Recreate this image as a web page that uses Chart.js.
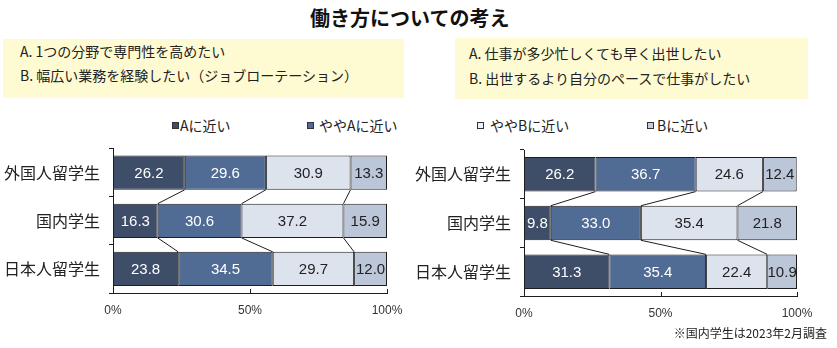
<!DOCTYPE html>
<html lang="ja">
<head>
<meta charset="utf-8">
<script src="https://cdn.jsdelivr.net/npm/chart.js@4.4.1/dist/chart.umd.min.js"></script>
<style>
  body { margin: 0; width: 837px; height: 348px; overflow: hidden; background: #fff; position: relative;
         font-family: "Noto Sans CJK JP", "Noto Sans", sans-serif; color: #222; }
  #title { position: absolute; left: 310px; top: 5px; font-size: 20px; font-weight: bold; line-height: 26px; color: #111; }
  .note { position: absolute; background: #fefbd3; font-size: 14px; box-sizing: border-box; }
  #noteL { left: 3px; top: 39px; width: 401px; height: 59px; padding: 0 0 0 17px; line-height: 24px; }
  #noteR { left: 455px; top: 38px; width: 353px; height: 61px; padding: 3px 0 0 14px; line-height: 25px; }
  .sq { position: absolute; top: 122px; width: 5px; height: 5px; border: 1px solid #333; }
  .lg { position: absolute; top: 115px; font-size: 14px; line-height: 20px; }
  .wrap { position: absolute; top: 130px; height: 200px; }
  #foot { position: absolute; right: 10px; top: 324px; font-size: 12px; line-height: 18px; }
</style>
</head>
<body>
<div id="title">働き方についての考え</div>
<div class="note" id="noteL">A. 1つの分野で専門性を高めたい<br>B. 幅広い業務を経験したい（ジョブローテーション）</div>
<div class="note" id="noteR">A. 仕事が多少忙しくても早く出世したい<br>B. 出世するより自分のペースで仕事がしたい</div>
<div id="legend"></div>
<div class="wrap" style="left:0;width:420px"><canvas id="chartL" width="420" height="200"></canvas></div>
<div class="wrap" style="left:410px;width:427px"><canvas id="chartR" width="427" height="200"></canvas></div>
<div id="foot">※国内学生は2023年2月調査</div>
<script>
// ===============================
// DATA
// ===============================
const categories = ["外国人留学生", "国内学生", "日本人留学生"];
const seriesNames = ["Aに近い", "ややAに近い", "ややBに近い", "Bに近い"];
const xTickValues = [0, 50, 100];

// left chart: 専門性 vs ジョブローテーション
const leftNearA = [26.2, 16.3, 23.8];
const leftSomewhatA = [29.6, 30.6, 34.5];
const leftSomewhatB = [30.9, 37.2, 29.7];
const leftNearB = [13.3, 15.9, 12.0];

// right chart: 早く出世 vs 自分のペース
const rightNearA = [26.2, 9.8, 31.3];
const rightSomewhatA = [36.7, 33.0, 35.4];
const rightSomewhatB = [24.6, 35.4, 22.4];
const rightNearB = [12.4, 21.8, 10.9];

// ===============================
// STYLE
// ===============================
const barColors = ["#3e4e69", "#506b94", "#dde3ed", "#bcc6d9"];
const legendColors = ["#3e4e69", "#506b94", "#eef1f6", "#c3cbdc"];
const labelColors = ["#ffffff", "#ffffff", "#222222", "#222222"];
const lineColor = "#1e1e1e";

// ===============================
// LEGEND (shared by both charts)
// ===============================
const legendSquareX = [172, 307, 477, 647];
const legendTextX = [180, 319, 490, 657];
const legendEl = document.getElementById("legend");
seriesNames.forEach((name, i) => {
  legendEl.innerHTML += `
    <div class="sq" style="left:${legendSquareX[i]}px;background:${legendColors[i]}"></div>
    <div class="lg" style="left:${legendTextX[i]}px">${name}</div>`;
});

// ===============================
// PLUGIN: connectors, value labels, inner x ticks
// ===============================
const connectorPlugin = {
  id: "connectors",
  afterDatasetsDraw(chart) {
    const ctx = chart.ctx;
    ctx.save();
    ctx.strokeStyle = lineColor;
    ctx.lineWidth = 1;

    // lines joining the segment boundaries of neighbouring bars
    for (let d = 0; d < chart.data.datasets.length - 1; d++) {
      const bars = chart.getDatasetMeta(d).data;
      for (let i = 0; i < bars.length - 1; i++) {
        const a = bars[i], b = bars[i + 1];
        ctx.beginPath();
        ctx.moveTo(a.x, a.y + a.height / 2);
        ctx.lineTo(b.x, b.y - b.height / 2);
        ctx.stroke();
      }
    }

    // small upward ticks on the x axis
    const xs = chart.scales.x;
    const bottom = chart.chartArea.bottom;
    xTickValues.forEach(v => {
      const px = Math.round(xs.getPixelForValue(v)) + 0.5;
      ctx.beginPath();
      ctx.moveTo(px, bottom);
      ctx.lineTo(px, bottom - 4);
      ctx.stroke();
    });

    // value labels
    ctx.font = '15px "Liberation Sans", Arial, sans-serif';
    ctx.textAlign = "center";
    ctx.textBaseline = "middle";
    chart.data.datasets.forEach((ds, d) => {
      ctx.fillStyle = labelColors[d];
      chart.getDatasetMeta(d).data.forEach((bar, i) => {
        ctx.fillText(ds.data[i].toFixed(1), (bar.x + bar.base) / 2, bar.y + 1);
      });
    });
    ctx.restore();
  }
};

// ===============================
// CHART BUILDER
// ===============================
function makeChart(id, series, area) {
  return new Chart(document.getElementById(id), {
    type: "bar",
    data: {
      labels: categories,
      datasets: series.map((values, i) => ({
        label: seriesNames[i],
        data: values,
        backgroundColor: barColors[i],
        borderColor: lineColor,
        borderWidth: 1,
        borderSkipped: false,
        barPercentage: 0.71,
        categoryPercentage: 1
      }))
    },
    options: {
      indexAxis: "y",
      responsive: false,
      animation: false,
      layout: { padding: { left: 0, right: area.right, top: area.top, bottom: 0 } },
      plugins: { legend: { display: false }, tooltip: { enabled: false } },
      scales: {
        x: {
          stacked: true,
          min: 0,
          max: 100,
          afterBuildTicks: s => { s.ticks = xTickValues.map(v => ({ value: v })); },
          ticks: {
            callback: v => v + "%",
            color: "#333",
            font: { family: '"Liberation Sans", Arial, sans-serif', size: 12 },
            padding: 10,
            maxRotation: 0
          },
          grid: { display: false, drawTicks: false },
          border: { display: true, color: lineColor },
          afterFit: s => { s.height = area.axisH; }
        },
        y: {
          stacked: true,
          ticks: {
            color: "#222",
            font: { family: '"Noto Sans CJK JP", sans-serif', size: 16 },
            padding: 9
          },
          grid: { offset: true, drawOnChartArea: false, tickLength: 4, color: lineColor },
          border: { display: true, color: lineColor },
          afterFit: s => { s.width = area.left; }
        }
      }
    },
    plugins: [connectorPlugin]
  });
}

makeChart("chartL", [leftNearA, leftSomewhatA, leftSomewhatB, leftNearB],
  { left: 113, right: 33, top: 14, axisH: 37 });
makeChart("chartR", [rightNearA, rightSomewhatA, rightSomewhatB, rightNearB],
  { left: 114, right: 40, top: 20, axisH: 34 });
</script>
</body>
</html>
